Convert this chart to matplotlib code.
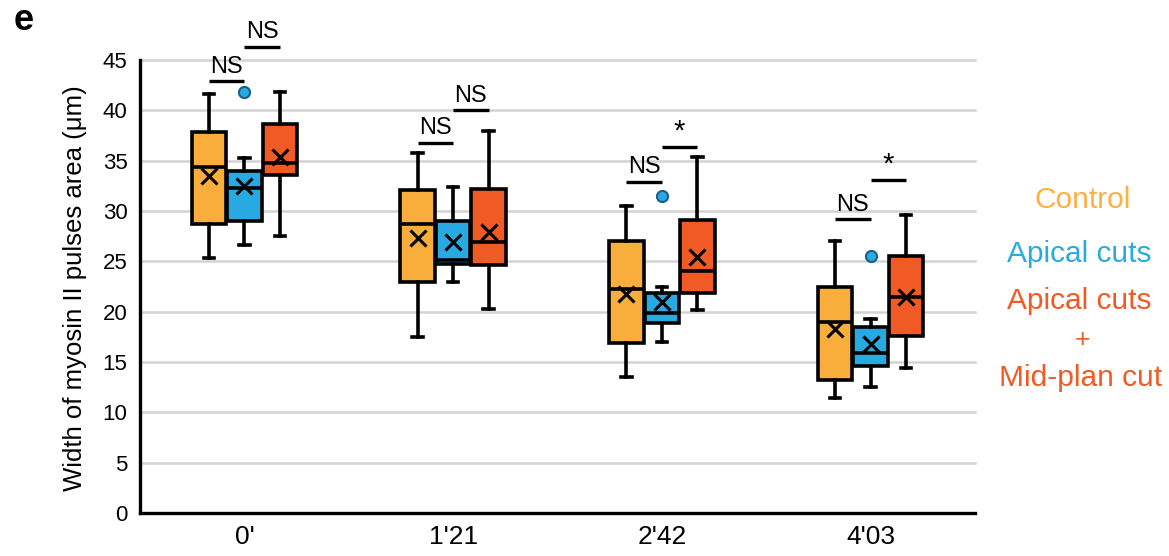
import numpy as np
import matplotlib.pyplot as plt

plt.rcParams['font.family'] = ['Liberation Sans', 'DejaVu Sans']

time_labels = ["0'", "1'21", "2'42", "4'03"]

# Control
control_whislo = [25.3, 17.5, 13.5, 11.4]
control_q1 = [28.7, 22.9, 16.9, 13.2]
control_med = [34.4, 28.7, 22.3, 19.0]
control_q3 = [37.8, 32.1, 27.0, 22.5]
control_whishi = [41.6, 35.8, 30.5, 27.0]
control_mean = [33.5, 27.3, 21.8, 18.3]
control_fliers = [[], [], [], []]

# Apical cuts
apical_whislo = [26.6, 22.9, 17.0, 12.5]
apical_q1 = [29.0, 24.7, 18.9, 14.6]
apical_med = [32.3, 25.1, 19.9, 15.9]
apical_q3 = [34.0, 29.0, 21.9, 18.5]
apical_whishi = [35.3, 32.4, 22.5, 19.3]
apical_mean = [32.5, 26.9, 21.0, 16.8]
apical_fliers = [[41.8], [], [31.5], [25.5]]

# Apical cuts + Mid-plan cut
mid_whislo = [27.5, 20.3, 20.2, 14.4]
mid_q1 = [33.6, 24.6, 21.9, 17.6]
mid_med = [34.8, 26.9, 24.0, 21.5]
mid_q3 = [38.6, 32.2, 29.1, 25.5]
mid_whishi = [41.8, 37.9, 35.4, 29.6]
mid_mean = [35.4, 27.9, 25.4, 21.5]
mid_fliers = [[], [], [], []]

# significance bars: group, from series, to series, height, label
sig_group = [0, 0, 1, 1, 2, 2, 3, 3]
sig_from = [0, 1, 0, 1, 0, 1, 0, 1]
sig_to = [1, 2, 1, 2, 1, 2, 1, 2]
sig_y = [42.9, 46.3, 36.8, 40.0, 32.9, 36.4, 29.2, 33.1]
sig_text = ['NS', 'NS', 'NS', 'NS', 'NS', '*', 'NS', '*']

colors = ['#F9AE3B', '#29A9E1', '#F05A24']
text_colors = ['#FBB040', '#29ABE2', '#F15A24']
offsets = [-0.17, 0.0, 0.17]
box_w = 0.165


def make_stats(whislo, q1, med, q3, whishi, mean, fliers):
    out = []
    for i in range(len(med)):
        out.append(dict(whislo=whislo[i], q1=q1[i], med=med[i], q3=q3[i],
                        whishi=whishi[i], mean=mean[i], fliers=fliers[i]))
    return out


all_stats = [
    make_stats(control_whislo, control_q1, control_med, control_q3, control_whishi, control_mean, control_fliers),
    make_stats(apical_whislo, apical_q1, apical_med, apical_q3, apical_whishi, apical_mean, apical_fliers),
    make_stats(mid_whislo, mid_q1, mid_med, mid_q3, mid_whishi, mid_mean, mid_fliers),
]

fig = plt.figure(figsize=(11.69, 5.56), dpi=100)
ax = fig.add_axes([140 / 1169, 43 / 556, 835 / 1169, 453 / 556])

x = np.arange(len(time_labels))
lw = 2.6
for s, stats in enumerate(all_stats):
    ax.bxp(stats, positions=x + offsets[s], widths=box_w, capwidths=0.05,
           showmeans=True, patch_artist=True, manage_ticks=False,
           boxprops=dict(facecolor=colors[s], edgecolor='black', linewidth=lw),
           medianprops=dict(color='black', linewidth=lw),
           whiskerprops=dict(color='black', linewidth=lw),
           capprops=dict(color='black', linewidth=lw),
           meanprops=dict(marker='x', markeredgecolor='black', markersize=11, markeredgewidth=2.2),
           flierprops=dict(marker='o', markerfacecolor=colors[s], markeredgecolor='#1a5f85',
                           markersize=8, markeredgewidth=1.5))

for g, a, b, y, t in zip(sig_group, sig_from, sig_to, sig_y, sig_text):
    x0 = g + offsets[a]
    x1 = g + offsets[b]
    ax.plot([x0, x1], [y, y], color='black', lw=2.4, clip_on=False, solid_capstyle='butt')
    if t == '*':
        ax.text((x0 + x1) / 2, y + 0.1, t, ha='center', va='bottom', fontsize=21, clip_on=False)
    else:
        ax.text((x0 + x1) / 2, y + 0.35, t, ha='center', va='bottom', fontsize=17, clip_on=False)

ax.set_xlim(-0.5, 3.5)
ax.set_ylim(0, 45)
ax.set_yticks(np.arange(0, 46, 5))
ax.set_xticks(x)
ax.set_xticklabels(time_labels, fontsize=19)
ax.tick_params(axis='y', length=0, pad=9, labelsize=16)
ax.tick_params(axis='x', length=0, pad=9)
ax.yaxis.grid(True, color='#d3d3d3', lw=1.8, clip_on=False)
ax.set_axisbelow(True)
for side in ['top', 'right']:
    ax.spines[side].set_visible(False)
for side in ['left', 'bottom']:
    ax.spines[side].set_linewidth(2.4)
    ax.spines[side].set_zorder(5)

fig.text(75 / 1169, 1 - 288 / 556, 'Width of myosin II pulses area (\u03bcm)', rotation=90,
         ha='center', va='center', fontsize=18.5)
fig.text(14 / 1169, 1 - 21 / 556, 'e', fontsize=26, fontweight='bold', ha='left', va='center')

fig.text(1083 / 1169, 1 - 200 / 556, 'Control', color=text_colors[0], fontsize=21.5, ha='center', va='center')
fig.text(1079 / 1169, 1 - 254 / 556, 'Apical cuts', color=text_colors[1], fontsize=21.5, ha='center', va='center')
fig.text(1079 / 1169, 1 - 301 / 556, 'Apical cuts', color=text_colors[2], fontsize=21.5, ha='center', va='center')
fig.text(1082 / 1169, 1 - 340 / 556, '+', color=text_colors[2], fontsize=19, ha='center', va='center')
fig.text(1081 / 1169, 1 - 378 / 556, 'Mid-plan cut', color=text_colors[2], fontsize=21.5, ha='center', va='center')

fig.savefig('out.png', dpi=100)
